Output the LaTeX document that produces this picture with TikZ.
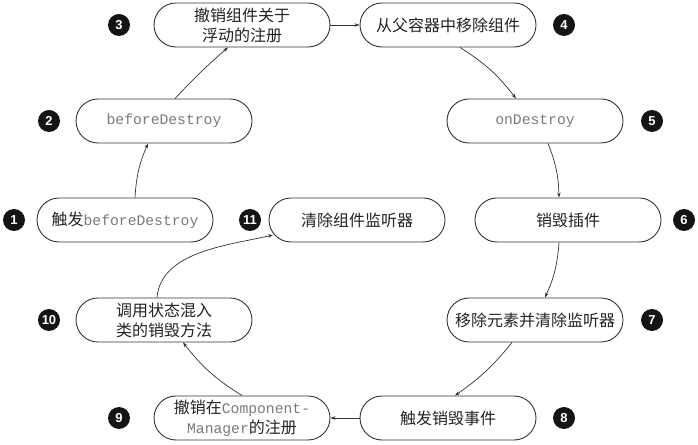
\documentclass[tikz,border=0pt]{standalone}
\usepackage{fontspec}
\usetikzlibrary{arrows.meta,shapes.misc}
\newfontfamily\cjk{Noto Sans CJK SC}
\newfontfamily\monof{Liberation Mono}
\newfontfamily\badgef{Liberation Sans}
\definecolor{txt}{HTML}{222222}
\definecolor{mtxt}{HTML}{7A7A7A}
\definecolor{bord}{HTML}{333333}
\newcommand{\mn}[1]{{\monof\fontsize{14.7}{20}\selectfont\color{mtxt}#1}}
\tikzset{
  stepbox/.style={rounded rectangle, draw=bord, line width=0.9pt, minimum width=180pt, minimum height=44pt,
    inner sep=2pt, align=center, text=txt, font=\cjk\fontsize{16}{20}\selectfont},
  badge/.style={circle, fill=black!92, minimum size=22pt, inner sep=0pt, text=white,
    font=\badgef\bfseries\fontsize{13}{13}\selectfont},
  conn/.style={draw=bord, line width=0.7pt, -{Stealth[length=5pt,width=3.5pt]}}
}
\begin{document}
\begin{tikzpicture}[x=1pt,y=1pt]
\useasboundingbox (0,0) rectangle (698,444);
\node[stepbox] (n3) at (242,419) {撤销组件关于\\浮动的注册};
\node[stepbox] (n4) at (448,419) {从父容器中移除组件};
\node[stepbox] (n2) at (164,323) {\mn{beforeDestroy}};
\node[stepbox] (n5) at (535,323) {\mn{onDestroy}};
\node[stepbox] (n1) at (125,224) {触发\mn{beforeDestroy}};
\node[stepbox] (n11) at (357,224) {清除组件监听器};
\node[stepbox, minimum width=190pt] (n6) at (568,224) {销毁插件};
\node[stepbox] (n10) at (164,124) {调用状态混入\\类的销毁方法};
\node[stepbox] (n7) at (535,124) {移除元素并清除监听器};
\node[stepbox] (n9) at (242,26) {撤销在\mn{Component-}\\\mn{Manager}的注册};
\node[stepbox] (n8) at (448,26) {触发销毁事件};

\node[badge] (b1) at (14,224) {1};
\node[badge] (b2) at (49,323) {2};
\node[badge] (b3) at (119,419) {3};
\node[badge] (b4) at (564,419) {4};
\node[badge] (b5) at (652,323) {5};
\node[badge] (b6) at (684,224) {6};
\node[badge] (b7) at (652,124) {7};
\node[badge] (b8) at (564,26) {8};
\node[badge] (b9) at (119,26) {9};
\node[badge] (b10) at (49,124) {10};
\node[badge] (b11) at (250,224) {11};

\coordinate (e11) at ([xshift=-84pt,yshift=-15pt]n11.center);

\draw[conn] ([xshift=10pt]n1.north) to[bend left=10] ([xshift=-16pt]n2.south);
\draw[conn] ([xshift=11pt]n2.north) to[bend left=3] ([xshift=-14pt]n3.south);
\draw[conn] (n3.east) -- (n4.west);
\draw[conn] ([xshift=12pt]n4.south) to[bend left=10] ([xshift=-19pt]n5.north);
\draw[conn] ([xshift=13pt]n5.south) to[bend left=10] ([xshift=-9pt]n6.north);
\draw[conn] ([xshift=-9pt]n6.south) to[bend left=10] ([xshift=10pt]n7.north);
\draw[conn] ([xshift=-23pt]n7.south) to[bend left=8] ([xshift=7pt]n8.north);
\draw[conn] (n8.west) -- (n9.east);
\draw[conn] (n9.north) to[bend left=10] ([xshift=19pt]n10.south);
\draw[conn] ([xshift=-7pt]n10.north) to[out=85,in=193,looseness=0.9] (e11);
\end{tikzpicture}
\end{document}
